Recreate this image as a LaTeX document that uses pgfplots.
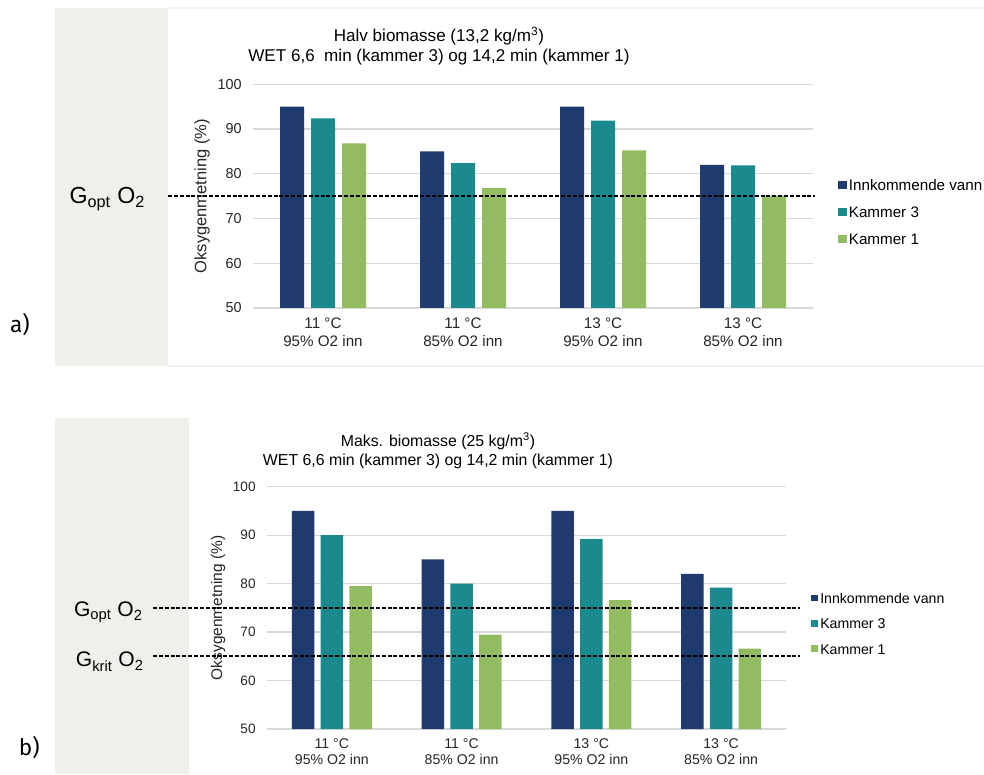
\documentclass[border=0pt]{standalone}
\usepackage{pgfplots}
\pgfplotsset{compat=1.18}
\usepackage{fontspec}
\setmainfont{Liberation Sans}
\newfontfamily\fira{Fira Sans}
\definecolor{cNavy}{HTML}{1F3A6E}
\definecolor{cTeal}{HTML}{1B8A8F}
\definecolor{cGreen}{HTML}{92BB62}
\definecolor{panel}{HTML}{F0F0EA}
\definecolor{gridc}{HTML}{D9D9D9}
\pgfplotsset{
  sqA/.style={legend image code/.code={\fill[#1] (0pt,-1.6pt) rectangle (6.2pt,4.6pt);}},
  sqB/.style={legend image code/.code={\fill[#1] (0pt,-1.4pt) rectangle (5.2pt,3.8pt);}},
}
\begin{document}
\begin{tikzpicture}
\fill[white] (0,0) rectangle (738pt,580.5pt);
\useasboundingbox (0,0) rectangle (738pt,580.5pt);
% side panels
\fill[panel] (41.25pt,306pt) rectangle (126pt,574.5pt);
\draw[gray!10, line width=1.2pt] (126pt,574.5pt) -- (738pt,574.5pt);
\draw[gray!10, line width=1.2pt] (126pt,306pt) -- (738pt,306pt);
\fill[panel] (41.25pt,0pt) rectangle (141.75pt,267pt);
% panel letters
\node[font=\fira\fontsize{17}{20}\selectfont] at (15pt,336.75pt) {a)};
\node[font=\fira\fontsize{17}{20}\selectfont] at (22pt,19.5pt) {b)};
% threshold labels
\node[anchor=base east, inner sep=0pt, font=\fontsize{17.4}{20}\selectfont] at (109pt,427.5pt) {G\textsubscript{opt} O\textsubscript{2}};
\node[anchor=base east, inner sep=0pt, font=\fontsize{15.8}{18}\selectfont] at (107.25pt,117.75pt) {G\textsubscript{opt} O\textsubscript{2}};
\node[anchor=base east, inner sep=0pt, font=\fontsize{15.8}{18}\selectfont] at (108pt,80.25pt) {G\textsubscript{krit} O\textsubscript{2}};
% titles
\node[align=center, font=\fontsize{12.8}{15}\selectfont] at (329.25pt,546pt) {Halv biomasse (13,2 kg/m\textsuperscript{3})\\WET 6,6\ \ min (kammer 3) og 14,2 min (kammer 1)};
\node[align=center, font=\fontsize{11.9}{14.25}\selectfont] at (328.5pt,242.25pt) {Maks. biomasse (25 kg/m\textsuperscript{3})\\WET 6,6 min (kammer 3) og 14,2 min (kammer 1)};

% ---------- top chart ----------
\begin{axis}[
  at={(189.75pt,349.5pt)}, anchor=south west,
  scale only axis, width=420pt, height=167.8pt,
  xmin=-0.5, xmax=3.5, ymin=50, ymax=100,
  ytick={50,60,...,100}, xtick={0,1,2,3},
  xticklabels={{11 °C\\95\% O2 inn},{11 °C\\85\% O2 inn},{13 °C\\95\% O2 inn},{13 °C\\85\% O2 inn}},
  xticklabel style={align=center, font=\fontsize{11.4}{13.5}\selectfont, yshift=-4pt, text=black!85},
  yticklabel style={font=\fontsize{10.8}{13}\selectfont, xshift=-5pt, text=black!85},
  /pgf/number format/assume math mode=true,
  ymajorgrids, grid style={draw=gridc, line width=0.9pt},
  axis line style={draw=none}, major tick length=0pt,
  ylabel={Oksygenmetning (\%)},
  ylabel style={at={(axis description cs:-0.091,0.5)}, anchor=center, font=\fontsize{12.4}{14}\selectfont, text=black!85},
  legend style={at={(axis description cs:1.045,0.42)}, anchor=west, draw=none, fill=none, inner sep=0pt,
    font=\fontsize{11.4}{13}\selectfont, row sep=11.2pt,
    nodes={inner xsep=1.6pt, inner ysep=0pt, text height=0.72em, text depth=0.2em}},
  legend cell align=left,
]
\addplot[ybar, bar width=18pt, bar shift=-23.25pt, fill=cNavy, draw=none, sqA=cNavy] coordinates {(0,95) (1,85) (2,95) (3,82)};
\addlegendentry{Innkommende vann}
\addplot[ybar, bar width=18pt, bar shift=0pt, fill=cTeal, draw=none, sqA=cTeal] coordinates {(0,92.4) (1,82.4) (2,91.9) (3,81.9)};
\addlegendentry{Kammer 3}
\addplot[ybar, bar width=18pt, bar shift=23.25pt, fill=cGreen, draw=none, sqA=cGreen] coordinates {(0,86.8) (1,76.8) (2,85.2) (3,75.1)};
\addlegendentry{Kammer 1}
\end{axis}
\begin{axis}[
  at={(189.75pt,349.5pt)}, anchor=south west,
  scale only axis, width=420pt, height=167.8pt,
  xmin=-0.5, xmax=3.5, ymin=50, ymax=100, hide axis, clip=false]
\addplot[black, line width=1.5pt, dash pattern=on 3pt off 1.4pt] coordinates {(-1.107,75) (3.514,75)};
\end{axis}

% ---------- bottom chart ----------
\begin{axis}[
  at={(200.25pt,33.75pt)}, anchor=south west,
  scale only axis, width=389.25pt, height=181.7pt,
  xmin=-0.5, xmax=3.5, ymin=50, ymax=100,
  ytick={50,60,...,100}, xtick={0,1,2,3},
  xticklabels={{11 °C\\95\% O2 inn},{11 °C\\85\% O2 inn},{13 °C\\95\% O2 inn},{13 °C\\85\% O2 inn}},
  xticklabel style={align=center, font=\fontsize{10.6}{12}\selectfont, yshift=-4pt, text=black!85},
  yticklabel style={font=\fontsize{10.2}{12}\selectfont, xshift=-5pt, text=black!85},
  /pgf/number format/assume math mode=true,
  ymajorgrids, grid style={draw=gridc, line width=0.9pt},
  axis line style={draw=none}, major tick length=0pt,
  ylabel={Oksygenmetning (\%)},
  ylabel style={at={(axis description cs:-0.094,0.5)}, anchor=center, font=\fontsize{11.6}{13}\selectfont, text=black!85},
  legend style={at={(axis description cs:1.048,0.429)}, anchor=west, draw=none, fill=none, inner sep=0pt,
    font=\fontsize{10.6}{12}\selectfont, row sep=9.9pt,
    nodes={inner xsep=1.6pt, inner ysep=0pt, text height=0.72em, text depth=0.2em}},
  legend cell align=left,
]
\addplot[ybar, bar width=16.9pt, bar shift=-21.5pt, fill=cNavy, draw=none, sqB=cNavy] coordinates {(0,95) (1,85) (2,95) (3,82)};
\addlegendentry{Innkommende vann}
\addplot[ybar, bar width=16.9pt, bar shift=0pt, fill=cTeal, draw=none, sqB=cTeal] coordinates {(0,90) (1,80) (2,89.2) (3,79.2)};
\addlegendentry{Kammer 3}
\addplot[ybar, bar width=16.9pt, bar shift=21.5pt, fill=cGreen, draw=none, sqB=cGreen] coordinates {(0,79.5) (1,69.5) (2,76.6) (3,66.6)};
\addlegendentry{Kammer 1}
\end{axis}
\begin{axis}[
  at={(200.25pt,33.75pt)}, anchor=south west,
  scale only axis, width=389.25pt, height=181.7pt,
  xmin=-0.5, xmax=3.5, ymin=50, ymax=100, hide axis, clip=false]
\addplot[black, line width=1.5pt, dash pattern=on 3pt off 1.4pt] coordinates {(-1.379,75) (3.608,75)};
\addplot[black, line width=1.5pt, dash pattern=on 3pt off 1.4pt] coordinates {(-1.379,65) (3.608,65)};
\end{axis}
\end{tikzpicture}
\end{document}
